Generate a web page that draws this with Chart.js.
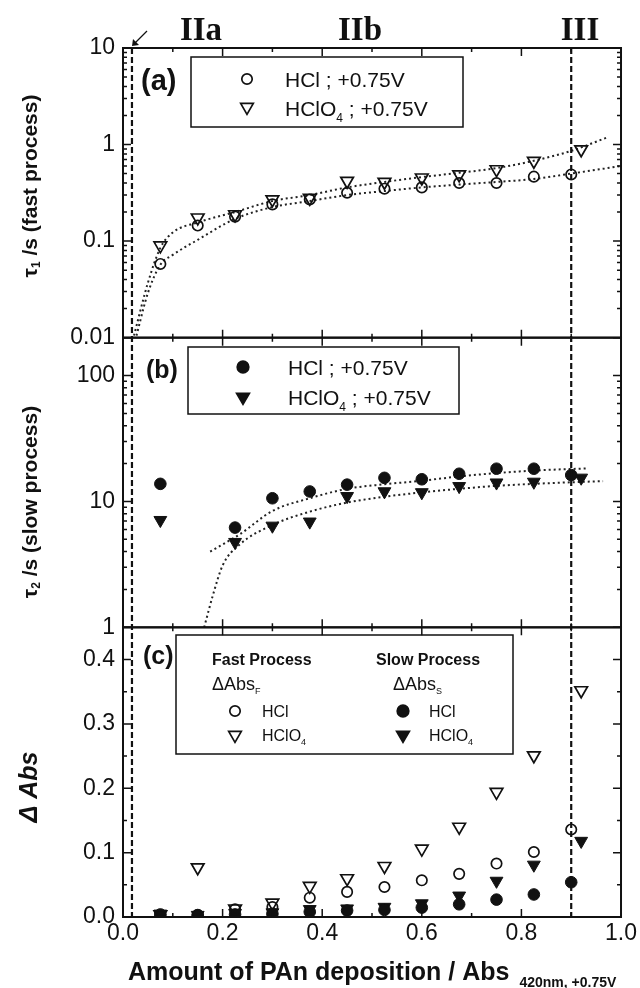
<!DOCTYPE html>
<html>
<head>
<meta charset="utf-8">
<script src="https://cdn.jsdelivr.net/npm/chart.js@4.4.1/dist/chart.umd.min.js"></script>
<style>
  html, body { margin: 0; padding: 0; background: #fff; }
  #wrap { width: 640px; height: 988px; }
</style>
</head>
<body>
<div id="wrap"><canvas id="chart" width="640" height="988"></canvas></div>
<script>
// Amount of PAn deposition (Abs 420nm, +0.75V)
const depHCl = [0.075, 0.15, 0.225, 0.3, 0.375, 0.45, 0.525, 0.6, 0.675, 0.75, 0.825, 0.9];
const depHClO4 = [0.075, 0.15, 0.225, 0.3, 0.375, 0.45, 0.525, 0.6, 0.675, 0.75, 0.825, 0.92];

// (a) tau1 / s, fast process
const tau1HCl = [0.058, 0.145, 0.179, 0.24, 0.27, 0.317, 0.349, 0.36, 0.40, 0.40, 0.465, 0.49];
const tau1HClO4 = [0.090, 0.175, 0.189, 0.27, 0.28, 0.42, 0.41, 0.454, 0.49, 0.553, 0.676, 0.89];
const fitAxHCl = [0.027, 0.05, 0.075, 0.1, 0.15, 0.225, 0.3, 0.375, 0.45, 0.525, 0.6, 0.675, 0.75, 0.825, 0.9, 1.0];
const fitAHCl = [0.0105, 0.029, 0.057, 0.072, 0.103, 0.17, 0.225, 0.26, 0.30, 0.33, 0.36, 0.385, 0.41, 0.44, 0.50, 0.60];
const fitAxHClO4 = [0.022, 0.05, 0.075, 0.1, 0.15, 0.225, 0.3, 0.375, 0.45, 0.525, 0.6, 0.675, 0.75, 0.825, 0.9, 0.975];
const fitAHClO4 = [0.0105, 0.037, 0.085, 0.123, 0.156, 0.20, 0.26, 0.30, 0.36, 0.41, 0.46, 0.51, 0.57, 0.68, 0.86, 1.2];

// (b) tau2 / s, slow process (no point at 0.15)
const tau2HCl = [13.8, null, 6.2, 10.6, 12.0, 13.6, 15.4, 15.0, 16.6, 18.2, 18.2, 16.2];
const tau2HClO4 = [7.1, null, 4.75, 6.4, 6.9, 11.0, 12.0, 11.8, 13.2, 14.1, 14.3, 15.4];
const fitBxHCl = [0.175, 0.235, 0.3, 0.375, 0.45, 0.525, 0.6, 0.675, 0.75, 0.825, 0.93];
const fitBHCl = [4.0, 5.5, 8.4, 10.6, 12.6, 13.7, 14.6, 15.8, 16.8, 17.6, 18.3];
const fitBxHClO4 = [0.163, 0.18, 0.2, 0.233, 0.3, 0.375, 0.45, 0.525, 0.6, 0.675, 0.75, 0.825, 0.9, 0.964];
const fitBHClO4 = [1.0, 1.77, 3.1, 4.5, 6.5, 8.3, 9.8, 10.9, 11.8, 12.6, 13.3, 13.8, 14.2, 14.5];

// (c) delta Abs
const fastHCl = [0.003, 0.003, 0.012, 0.0155, 0.030, 0.039, 0.0466, 0.057, 0.067, 0.083, 0.101, 0.136];
const fastHClO4 = [0.004, 0.077, 0.013, 0.022, 0.048, 0.060, 0.079, 0.106, 0.140, 0.194, 0.251, 0.352];
const slowHCl = [0.004, 0.003, 0.004, 0.005, 0.008, 0.010, 0.011, 0.0146, 0.0197, 0.027, 0.035, 0.054];
const slowHClO4 = [0.005, 0.003, 0.006, 0.007, 0.012, 0.013, 0.0155, 0.021, 0.033, 0.056, 0.081, 0.118];

// tick labels
const xTicks = [0, 0.2, 0.4, 0.6, 0.8, 1.0];
const aTicks = [0.01, 0.1, 1, 10];
const bTicks = [1, 10, 100];
const cTicks = [0, 0.1, 0.2, 0.3, 0.4];
// region borders (IIa / III)
const regionLines = [0.018, 0.9];

const FONT = "'Liberation Sans', Arial, Helvetica, sans-serif";
const INK = "#111";

const pts = (xs, ys) => xs.map((x, i) => ({ x, y: ys[i] })).filter(p => p.y !== null);

const openCircle = { pointStyle: "circle", pointRadius: 5.2, backgroundColor: "rgba(0,0,0,0)", borderColor: INK, borderWidth: 1.7 };
const openTri = { pointStyle: "triangle", rotation: 180, pointRadius: 7.3, backgroundColor: "rgba(0,0,0,0)", borderColor: INK, borderWidth: 1.7 };
const fullCircle = { pointStyle: "circle", pointRadius: 5.8, backgroundColor: INK, borderColor: INK, borderWidth: 1 };
const fullTri = { pointStyle: "triangle", rotation: 180, pointRadius: 7.4, backgroundColor: INK, borderColor: INK, borderWidth: 1 };

function fitLine(xs, ys, axis) {
    return {
        data: pts(xs, ys), yAxisID: axis, showLine: true, pointRadius: 0,
        borderColor: "#222", borderWidth: 2, borderDash: [2, 3],
        cubicInterpolationMode: "monotone", fill: false
    };
}
function marks(xs, ys, axis, style) {
    return Object.assign({ data: pts(xs, ys), yAxisID: axis, showLine: false }, style);
}

// rich text with sub-scripts: parts = [[text, font, dy, dx]]
function richWidth(ctx, parts) {
    let w = 0;
    parts.forEach(p => { ctx.font = p[1]; w += ctx.measureText(p[0]).width + (p[3] || 0); });
    return w;
}
function rich(ctx, parts, x, y) {
    parts.forEach(p => {
        ctx.font = p[1];
        x += p[3] || 0;
        ctx.fillText(p[0], x, y + (p[2] || 0));
        x += ctx.measureText(p[0]).width;
    });
}

function marker(ctx, kind, x, y) {
    ctx.beginPath();
    if (kind[1] === "c") {
        ctx.arc(x, y, kind[0] === "o" ? 5.2 : 5.8, 0, Math.PI * 2);
    } else {
        const r = kind[0] === "o" ? 7.3 : 7.4;
        ctx.moveTo(x, y + r);
        ctx.lineTo(x - r * 0.866, y - r / 2);
        ctx.lineTo(x + r * 0.866, y - r / 2);
        ctx.closePath();
    }
    if (kind[0] === "f") { ctx.fillStyle = INK; ctx.fill(); }
    ctx.lineWidth = 1.7;
    ctx.stroke();
}

function minorTicks(scale, log) {
    const out = [];
    if (log) {
        for (let d = Math.floor(Math.log10(scale.min)); d <= Math.ceil(Math.log10(scale.max)); d++) {
            for (let k = 1; k <= 9; k++) {
                const v = k * Math.pow(10, d);
                if (v >= scale.min * 0.999 && v <= scale.max * 1.001) out.push([v, k === 1]);
            }
        }
    } else {
        for (let i = 0; i * 0.05 <= scale.max + 1e-9; i++) out.push([i * 0.05, i % 2 === 0]);
    }
    return out;
}

const decor = {
    id: "decor",
    afterDatasetsDraw(chart) {
        const { ctx, chartArea: ca, scales } = chart;
        const xs = scales.x;
        const panels = [[scales.ya, true], [scales.yb, true], [scales.yc, false]];
        ctx.save();
        ctx.strokeStyle = INK;
        ctx.fillStyle = INK;

        // region borders
        ctx.setLineDash([6, 3]);
        ctx.lineWidth = 2.2;
        regionLines.forEach(v => {
            const px = xs.getPixelForValue(v);
            ctx.beginPath();
            ctx.moveTo(px, ca.top);
            ctx.lineTo(px, ca.bottom);
            ctx.stroke();
        });
        ctx.setLineDash([]);

        // panel frames
        ctx.lineWidth = 2;
        panels.forEach(([s]) => ctx.strokeRect(ca.left, s.top, ca.right - ca.left, s.bottom - s.top));

        // inward ticks
        ctx.lineWidth = 1.5;
        ctx.beginPath();
        panels.forEach(([s, log]) => {
            for (let i = 1; i < 10; i++) {
                const px = xs.getPixelForValue(i / 10), len = i % 2 ? 4 : 8;
                ctx.moveTo(px, s.top); ctx.lineTo(px, s.top + len);
                ctx.moveTo(px, s.bottom); ctx.lineTo(px, s.bottom - len);
            }
            minorTicks(s, log).forEach(([v, major]) => {
                const py = s.getPixelForValue(v), len = major ? 8 : 4;
                ctx.moveTo(ca.left, py); ctx.lineTo(ca.left + len, py);
                ctx.moveTo(ca.right, py); ctx.lineTo(ca.right - len, py);
            });
        });
        ctx.stroke();

        // region labels and arrow
        ctx.textBaseline = "alphabetic";
        ctx.textAlign = "center";
        ctx.font = "bold 33px 'Liberation Serif', 'Times New Roman', serif";
        ctx.fillText("IIa", 201, 40);
        ctx.fillText("IIb", 360, 40);
        ctx.fillText("III", 580, 40);
        ctx.lineWidth = 1.3;
        ctx.beginPath();
        ctx.moveTo(147, 31); ctx.lineTo(134, 44);
        ctx.stroke();
        ctx.beginPath();
        ctx.moveTo(132, 46); ctx.lineTo(133, 39); ctx.lineTo(139, 45);
        ctx.closePath(); ctx.fill();

        // panel letters
        ctx.textAlign = "left";
        ctx.textBaseline = "middle";
        ctx.font = "bold 29px " + FONT;
        ctx.fillText("(a)", 141, 82);
        ctx.font = "bold 25px " + FONT;
        ctx.fillText("(b)", 146, 371);
        ctx.fillText("(c)", 143, 657);

        // legend (a)
        ctx.lineWidth = 1.5;
        ctx.strokeRect(191, 57, 272, 70);
        marker(ctx, "oc", 247, 79);
        marker(ctx, "ot", 247, 107);
        ctx.textBaseline = "alphabetic";
        rich(ctx, [["HCl ; +0.75V", "21px " + FONT]], 285, 87);
        rich(ctx, [["HClO", "21px " + FONT], ["4", "12px " + FONT, 6], [" ; +0.75V", "21px " + FONT]], 285, 116);

        // legend (b)
        ctx.lineWidth = 1.5;
        ctx.strokeRect(188, 347, 271, 67);
        marker(ctx, "fc", 243, 367);
        marker(ctx, "ft", 243, 397);
        rich(ctx, [["HCl ; +0.75V", "21px " + FONT]], 288, 375);
        rich(ctx, [["HClO", "21px " + FONT], ["4", "12px " + FONT, 6], [" ; +0.75V", "21px " + FONT]], 288, 405);

        // legend (c)
        ctx.lineWidth = 1.5;
        ctx.strokeRect(176, 635, 337, 119);
        rich(ctx, [["Fast Process", "bold 16px " + FONT]], 212, 665);
        rich(ctx, [["Slow Process", "bold 16px " + FONT]], 376, 665);
        rich(ctx, [["\u0394Abs", "18px " + FONT], ["F", "9px " + FONT, 4]], 212, 690);
        rich(ctx, [["\u0394Abs", "18px " + FONT], ["S", "9px " + FONT, 4]], 393, 690);
        marker(ctx, "oc", 235, 711);
        marker(ctx, "ot", 235, 735);
        marker(ctx, "fc", 403, 711);
        marker(ctx, "ft", 403, 735);
        rich(ctx, [["HCl", "16px " + FONT]], 262, 717);
        rich(ctx, [["HClO", "16px " + FONT], ["4", "9px " + FONT, 4]], 262, 741);
        rich(ctx, [["HCl", "16px " + FONT]], 429, 717);
        rich(ctx, [["HClO", "16px " + FONT], ["4", "9px " + FONT, 4]], 429, 741);

        // y axis titles (rotated)
        const yTitle = (parts, cx, cy) => {
            ctx.save();
            ctx.translate(cx, cy);
            ctx.rotate(-Math.PI / 2);
            ctx.textBaseline = "middle";
            rich(ctx, parts, -richWidth(ctx, parts) / 2, 0);
            ctx.restore();
        };
        ctx.textAlign = "left";
        yTitle([["\u03c4", "bold 21px " + FONT], ["1", "bold 12px " + FONT, 6], [" /s (fast process)", "bold 21px " + FONT]], 31, 186);
        yTitle([["\u03c4", "bold 21px " + FONT], ["2", "bold 12px " + FONT, 6], [" /s (slow process)", "bold 21px " + FONT]], 31, 502);
        yTitle([["\u0394 Abs", "italic bold 25px " + FONT]], 30, 787);

        // x axis title
        ctx.textBaseline = "alphabetic";
        rich(ctx, [["Amount of PAn deposition / Abs", "bold 25px " + FONT], ["420nm, +0.75V", "bold 14px " + FONT, 7, 10]], 128, 980);
        ctx.restore();
    }
};

const yBase = {
    stack: "panels", stackWeight: 1,
    grid: { display: false, drawTicks: false },
    border: { display: false },
    afterFit: s => { s.width = 123; }
};
const tickFont = { family: FONT, size: 23 };

new Chart(document.getElementById("chart"), {
    type: "scatter",
    data: {
        datasets: [
            // (a)
            marks(depHCl, tau1HCl, "ya", openCircle),
            marks(depHClO4, tau1HClO4, "ya", openTri),
            fitLine(fitAxHCl, fitAHCl, "ya"),
            fitLine(fitAxHClO4, fitAHClO4, "ya"),
            // (b)
            marks(depHCl, tau2HCl, "yb", fullCircle),
            marks(depHClO4, tau2HClO4, "yb", fullTri),
            fitLine(fitBxHCl, fitBHCl, "yb"),
            fitLine(fitBxHClO4, fitBHClO4, "yb"),
            // (c)
            marks(depHCl, fastHCl, "yc", openCircle),
            marks(depHClO4, fastHClO4, "yc", openTri),
            marks(depHCl, slowHCl, "yc", fullCircle),
            marks(depHClO4, slowHClO4, "yc", fullTri)
        ]
    },
    options: {
        responsive: false,
        animation: false,
        events: [],
        layout: { padding: { top: 48, right: 17, left: 0, bottom: 0 } },
        plugins: { legend: { display: false }, tooltip: { enabled: false } },
        scales: {
            x: {
                type: "linear", min: 0, max: 1,
                grid: { display: false, drawTicks: false },
                border: { display: false },
                afterBuildTicks: s => { s.ticks = xTicks.map(value => ({ value })); },
                ticks: { font: tickFont, color: INK, padding: 3, maxRotation: 0, callback: v => v.toFixed(1) },
                afterFit: s => { s.height = 71; }
            },
            yc: Object.assign({}, yBase, {
                type: "linear", min: 0, max: 0.45,
                afterBuildTicks: s => { s.ticks = cTicks.map(value => ({ value })); },
                ticks: { font: tickFont, color: INK, padding: 8, callback: v => v.toFixed(1) }
            }),
            yb: Object.assign({}, yBase, {
                type: "logarithmic", min: 1, max: 200,
                afterBuildTicks: s => { s.ticks = bTicks.map(value => ({ value })); },
                ticks: { font: tickFont, color: INK, padding: 8, autoSkip: false, callback: v => String(v) }
            }),
            ya: Object.assign({}, yBase, {
                type: "logarithmic", min: 0.01, max: 10,
                afterBuildTicks: s => { s.ticks = aTicks.map(value => ({ value })); },
                ticks: { font: tickFont, color: INK, padding: 8, autoSkip: false, callback: v => String(v) }
            })
        }
    },
    plugins: [decor]
});
</script>
</body>
</html>
